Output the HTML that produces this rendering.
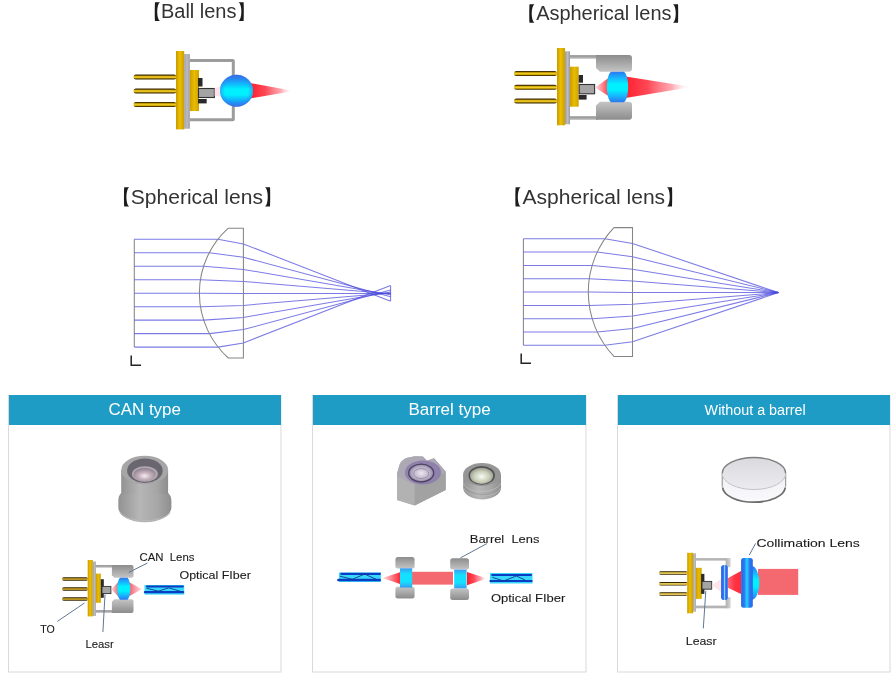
<!DOCTYPE html>
<html><head><meta charset="utf-8"><title>Lens types</title>
<style>html,body{margin:0;padding:0;background:#fff;width:894px;height:675px;overflow:hidden}svg{display:block;filter:blur(0.3px)}</style>
</head><body>
<svg width="894" height="675" viewBox="0 0 894 675">

<defs>
 <linearGradient id="gFl" x1="0" x2="1" y1="0" y2="0">
  <stop offset="0" stop-color="#c89800"/><stop offset="0.45" stop-color="#ecc000"/><stop offset="1" stop-color="#cc9e00"/>
 </linearGradient>
 <linearGradient id="gPin" x1="0" x2="0" y1="0" y2="1">
  <stop offset="0" stop-color="#3a2800"/><stop offset="0.18" stop-color="#5a4200"/><stop offset="0.32" stop-color="#d0a800"/><stop offset="0.55" stop-color="#f2d030"/><stop offset="0.72" stop-color="#d0a800"/><stop offset="0.84" stop-color="#5a4200"/><stop offset="1" stop-color="#3a2800"/>
 </linearGradient>
 <linearGradient id="gPin2" x1="0" x2="0" y1="0" y2="1">
  <stop offset="0" stop-color="#2a2000"/><stop offset="0.2" stop-color="#3a2a00"/><stop offset="0.36" stop-color="#a88418"/><stop offset="0.55" stop-color="#c8a030"/><stop offset="0.74" stop-color="#a88418"/><stop offset="0.86" stop-color="#3a2a00"/><stop offset="1" stop-color="#2a2000"/>
 </linearGradient>
 <linearGradient id="gPin3" x1="0" x2="0" y1="0" y2="1">
  <stop offset="0" stop-color="#2a2000"/><stop offset="0.2" stop-color="#3a2c00"/><stop offset="0.38" stop-color="#d8b840"/><stop offset="0.55" stop-color="#f0dc80"/><stop offset="0.72" stop-color="#d8b840"/><stop offset="0.84" stop-color="#3a2c00"/><stop offset="1" stop-color="#2a2000"/>
 </linearGradient>
 <linearGradient id="gIn" x1="0" x2="1" y1="0" y2="0">
  <stop offset="0" stop-color="#cc9c00"/><stop offset="0.5" stop-color="#e8bc00"/><stop offset="1" stop-color="#d0a200"/>
 </linearGradient>
 <linearGradient id="gPl" x1="0" x2="1" y1="0" y2="0">
  <stop offset="0" stop-color="#9c9ca2"/><stop offset="0.5" stop-color="#bcbcc2"/><stop offset="1" stop-color="#9a9a9e"/>
 </linearGradient>
 <linearGradient id="gHT" x1="0" x2="0" y1="0" y2="1">
  <stop offset="0" stop-color="#8c8c8c"/><stop offset="1" stop-color="#c4c4c4"/>
 </linearGradient>
 <linearGradient id="gHB" x1="0" x2="0" y1="0" y2="1">
  <stop offset="0" stop-color="#c4c4c4"/><stop offset="1" stop-color="#8c8c8c"/>
 </linearGradient>
 <linearGradient id="gBar" x1="0" x2="0" y1="0" y2="1">
  <stop offset="0" stop-color="#8a8a8a"/><stop offset="1" stop-color="#c4c4c4"/>
 </linearGradient>
 <linearGradient id="gStub" x1="0" x2="1" y1="0" y2="0">
  <stop offset="0" stop-color="#b0b0b0"/><stop offset="1" stop-color="#d4d4d4"/>
 </linearGradient>
 <linearGradient id="gLens" x1="0" x2="0" y1="0" y2="1">
  <stop offset="0" stop-color="#2a78f0"/><stop offset="0.2" stop-color="#18b4ff"/><stop offset="0.4" stop-color="#00f0ff"/><stop offset="0.6" stop-color="#00f0ff"/><stop offset="0.8" stop-color="#18b4ff"/><stop offset="1" stop-color="#2a78f0"/>
 </linearGradient>
 <linearGradient id="gLensH" x1="0" x2="1" y1="0" y2="0">
  <stop offset="0" stop-color="#2a62e4"/><stop offset="0.28" stop-color="#2c7cf0"/><stop offset="0.5" stop-color="#1ed8ff"/><stop offset="0.72" stop-color="#2c7cf0"/><stop offset="1" stop-color="#2a62e4"/>
 </linearGradient>
 <linearGradient id="gLensS" x1="0" x2="1" y1="0" y2="0">
  <stop offset="0" stop-color="#2a5ce6"/><stop offset="0.35" stop-color="#2e74f0"/><stop offset="0.52" stop-color="#90d8ff"/><stop offset="0.68" stop-color="#2e74f0"/><stop offset="1" stop-color="#2a5ce6"/>
 </linearGradient>
 <linearGradient id="gLensB" x1="0" x2="0" y1="0" y2="1">
  <stop offset="0" stop-color="#3a9cf0"/><stop offset="0.3" stop-color="#14e0ff"/><stop offset="0.7" stop-color="#14e0ff"/><stop offset="1" stop-color="#3a9cf0"/>
 </linearGradient>
 <linearGradient id="gBallV" x1="0" x2="0" y1="0" y2="1">
  <stop offset="0" stop-color="#3464e0"/><stop offset="0.22" stop-color="#18a4fa"/><stop offset="0.45" stop-color="#00f0ff"/><stop offset="0.62" stop-color="#00f0ff"/><stop offset="0.82" stop-color="#14a8fa"/><stop offset="1" stop-color="#3a66de"/>
 </linearGradient>
 <radialGradient id="gBallEdge" cx="0.5" cy="0.5" r="0.5">
  <stop offset="0.7" stop-color="#3a80f0" stop-opacity="0"/><stop offset="1" stop-color="#3a78ea" stop-opacity="0.55"/>
 </radialGradient>
 <radialGradient id="gBall" cx="0.5" cy="0.5" r="0.5">
  <stop offset="0" stop-color="#00ffff"/><stop offset="0.5" stop-color="#00f0ff"/><stop offset="1" stop-color="#3a74e6"/>
 </radialGradient>
 <linearGradient id="gRedR" x1="0" x2="1" y1="0" y2="0">
  <stop offset="0" stop-color="#ff1e2c"/><stop offset="0.35" stop-color="#ff4856"/><stop offset="0.7" stop-color="#ff8c98" stop-opacity="0.75"/><stop offset="1" stop-color="#ffffff" stop-opacity="0"/>
 </linearGradient>
 <linearGradient id="gRedL" x1="0" x2="1" y1="0" y2="0">
  <stop offset="0" stop-color="#ffe4e8"/><stop offset="1" stop-color="#ff2a36"/>
 </linearGradient>
 <linearGradient id="gRedM" x1="0" x2="1" y1="0" y2="0">
  <stop offset="0" stop-color="#ff6a78"/><stop offset="0.5" stop-color="#ff3444"/><stop offset="1" stop-color="#ff2a3a"/>
 </linearGradient>
 <linearGradient id="gPinkL" x1="0" x2="1" y1="0" y2="0">
  <stop offset="0" stop-color="#ffd8dc"/><stop offset="1" stop-color="#f05a6a"/>
 </linearGradient>
 <linearGradient id="gPinkR" x1="0" x2="1" y1="0" y2="0">
  <stop offset="0" stop-color="#f05a6a"/><stop offset="1" stop-color="#ffe0e4"/>
 </linearGradient>
 <linearGradient id="gCyl" x1="0" x2="1" y1="0" y2="0">
  <stop offset="0" stop-color="#929292"/><stop offset="0.4" stop-color="#b6b6b6"/><stop offset="0.75" stop-color="#a6a6a6"/><stop offset="1" stop-color="#8e8e8e"/>
 </linearGradient>
 <radialGradient id="gCanLens" cx="0.5" cy="0.62" r="0.62">
  <stop offset="0" stop-color="#f4eef2"/><stop offset="0.45" stop-color="#c4b0bc"/><stop offset="1" stop-color="#8a7e88"/>
 </radialGradient>
 <radialGradient id="gRbLens" cx="0.5" cy="0.55" r="0.6">
  <stop offset="0" stop-color="#f8faf4"/><stop offset="0.55" stop-color="#c8ceb8"/><stop offset="1" stop-color="#8a8e80"/>
 </radialGradient>
 <radialGradient id="gSqLens" cx="0.5" cy="0.5" r="0.6">
  <stop offset="0" stop-color="#ece8f0"/><stop offset="0.6" stop-color="#b8aec4"/><stop offset="1" stop-color="#6e6480"/>
 </radialGradient>
 <linearGradient id="gDisc" x1="0" x2="0" y1="0" y2="1">
  <stop offset="0" stop-color="#dadade"/><stop offset="1" stop-color="#ececf0"/>
 </linearGradient>
 <linearGradient id="gDiscSide" x1="0" x2="0" y1="0" y2="1">
  <stop offset="0" stop-color="#f0f0f4"/><stop offset="1" stop-color="#fafafc"/>
 </linearGradient>
</defs>
<path d="M155.00,2.20 L160.00,2.20 C156.30,4.40 156.30,18.80 160.00,21.00 L155.00,21.00 C154.70,17.00 154.70,6.20 155.00,2.20 Z" fill="#1c1c1c"/>
<path d="M243.60,2.20 L238.60,2.20 C242.30,4.40 242.30,18.80 238.60,21.00 L243.60,21.00 C243.90,17.00 243.90,6.20 243.60,2.20 Z" fill="#1c1c1c"/>
<text x="160.94" y="18.2" font-family="Liberation Sans, sans-serif" font-size="20.0" fill="#333" textLength="75.56" lengthAdjust="spacingAndGlyphs">Ball lens</text>
<path d="M529.50,4.20 L534.50,4.20 C530.80,6.40 530.80,20.50 534.50,22.70 L529.50,22.70 C529.20,18.70 529.20,8.20 529.50,4.20 Z" fill="#1c1c1c"/>
<path d="M678.00,4.20 L673.00,4.20 C676.70,6.40 676.70,20.50 673.00,22.70 L678.00,22.70 C678.30,18.70 678.30,8.20 678.00,4.20 Z" fill="#1c1c1c"/>
<text x="536.14" y="19.9" font-family="Liberation Sans, sans-serif" font-size="19.96" fill="#333" textLength="135.34" lengthAdjust="spacingAndGlyphs">Aspherical lens</text>
<path d="M124.20,187.30 L129.20,187.30 C125.50,189.50 125.50,204.40 129.20,206.60 L124.20,206.60 C123.90,202.60 123.90,191.30 124.20,187.30 Z" fill="#1c1c1c"/>
<path d="M270.00,187.30 L265.00,187.30 C268.70,189.50 268.70,204.40 265.00,206.60 L270.00,206.60 C270.30,202.60 270.30,191.30 270.00,187.30 Z" fill="#1c1c1c"/>
<text x="130.75" y="204.1" font-family="Liberation Sans, sans-serif" font-size="21.04" fill="#333" textLength="132.16" lengthAdjust="spacingAndGlyphs">Spherical lens</text>
<path d="M515.60,187.30 L520.60,187.30 C516.90,189.50 516.90,204.40 520.60,206.60 L515.60,206.60 C515.30,202.60 515.30,191.30 515.60,187.30 Z" fill="#1c1c1c"/>
<path d="M672.00,187.30 L667.00,187.30 C670.70,189.50 670.70,204.40 667.00,206.60 L672.00,206.60 C672.30,202.60 672.30,191.30 672.00,187.30 Z" fill="#1c1c1c"/>
<text x="522.54" y="203.8" font-family="Liberation Sans, sans-serif" font-size="21.03" fill="#333" textLength="142.58" lengthAdjust="spacingAndGlyphs">Aspherical lens</text>
<rect x="133.50" y="74.50" width="42.90" height="5.00" fill="url(#gPin)" rx="2.50"/>
<rect x="133.50" y="88.50" width="42.90" height="5.00" fill="url(#gPin)" rx="2.50"/>
<rect x="133.50" y="102.00" width="42.90" height="5.00" fill="url(#gPin)" rx="2.50"/>
<rect x="176.00" y="51.00" width="8.20" height="78.40" fill="url(#gFl)" />
<rect x="184.20" y="54.00" width="5.60" height="74.70" fill="url(#gPl)" />
<rect x="189.80" y="70.00" width="9.20" height="41.00" fill="url(#gIn)" />
<rect x="198.00" y="78.00" width="4.50" height="8.50" fill="#2a2a2a" />
<rect x="198.00" y="99.00" width="8.70" height="4.40" fill="#2a2a2a" />
<rect x="198.50" y="88.50" width="15.90" height="9.00" fill="#a4a4a4" stroke="#333" stroke-width="1.1"/>
<path d="M189.8,60.5 H232.8 Q233.3,60.5 233.3,61 V119.3 Q233.3,119.8 232.8,119.8 H189.8" fill="none" stroke="#9c9c9c" stroke-width="3"/>
<polygon points="250,83 294,91 250,98.5" fill="url(#gRedR)"/>
<polygon points="214.5,88.5 223,85 223,97 214.5,96" fill="#ffdce2" opacity="0.8"/>
<ellipse cx="236.5" cy="90.8" rx="16.5" ry="16" fill="url(#gBallV)"/>
<ellipse cx="236.5" cy="90.8" rx="16.5" ry="16" fill="url(#gBallEdge)"/>
<rect x="514.00" y="71.00" width="43.00" height="5.00" fill="url(#gPin)" rx="2.50"/>
<rect x="514.00" y="84.80" width="43.00" height="5.00" fill="url(#gPin)" rx="2.50"/>
<rect x="514.00" y="98.50" width="43.00" height="5.00" fill="url(#gPin)" rx="2.50"/>
<rect x="557.00" y="48.00" width="8.00" height="77.30" fill="url(#gFl)" />
<rect x="565.00" y="51.30" width="5.00" height="73.00" fill="url(#gPl)" />
<rect x="570.00" y="66.70" width="8.70" height="40.00" fill="url(#gIn)" />
<rect x="578.70" y="75.00" width="4.30" height="7.70" fill="#2a2a2a" />
<rect x="578.70" y="95.00" width="7.90" height="4.60" fill="#2a2a2a" />
<rect x="579.20" y="84.50" width="15.40" height="9.30" fill="#a4a4a4" stroke="#333" stroke-width="1.1"/>
<rect x="570" y="55.2" width="28" height="3.6" fill="url(#gBar)"/>
<rect x="570" y="116.3" width="28" height="3.6" fill="url(#gBar)"/>
<path d="M596,55 H629 Q632,55 632,58 V68.7 Q632,71.7 629,71.7 H600 L596,68 Z" fill="url(#gHT)"/>
<path d="M596,119.8 H629 Q632,119.8 632,116.8 V104.7 Q632,101.7 629,101.7 H600 L596,105.4 Z" fill="url(#gHB)"/>
<polygon points="595,87.5 610,77 610,97" fill="url(#gRedL)"/>
<polygon points="624,76.3 692,87 624,98.3" fill="url(#gRedR)"/>
<path d="M611,71.7 H624 C629.5,76 629.5,98 624,102.2 H611 C605.5,98 605.5,76 611,71.7 Z" fill="url(#gLens)"/>
<line x1="134.3" y1="239.3" x2="134.3" y2="347.1" stroke="#858585" stroke-width="1.05" fill="none"/>
<polyline points="134.3,239.3 217.9,239.3 243.4,243.9 390.6,301.2" stroke="#4a48dc" stroke-opacity="0.72" stroke-width="1.05" fill="none"/>
<polyline points="134.3,252.8 209.3,252.8 243.4,257.2 390.6,296.7" stroke="#4a48dc" stroke-opacity="0.72" stroke-width="1.05" fill="none"/>
<polyline points="134.3,266.2 203.6,266.2 243.4,269.4 390.6,294.7" stroke="#4a48dc" stroke-opacity="0.72" stroke-width="1.05" fill="none"/>
<polyline points="134.3,279.7 200.4,279.7 243.4,281.4 390.6,293.8" stroke="#4a48dc" stroke-opacity="0.72" stroke-width="1.05" fill="none"/>
<polyline points="134.3,293.2 199.4,293.2 243.4,293.4 390.6,293.4" stroke="#4a48dc" stroke-opacity="0.72" stroke-width="1.05" fill="none"/>
<polyline points="134.3,306.7 200.5,306.7 243.4,305.4 390.6,293.0" stroke="#4a48dc" stroke-opacity="0.72" stroke-width="1.05" fill="none"/>
<polyline points="134.3,320.1 203.7,320.1 243.4,317.4 390.6,292.1" stroke="#4a48dc" stroke-opacity="0.72" stroke-width="1.05" fill="none"/>
<polyline points="134.3,333.6 209.4,333.6 243.4,329.6 390.6,290.1" stroke="#4a48dc" stroke-opacity="0.72" stroke-width="1.05" fill="none"/>
<polyline points="134.3,347.1 218.1,347.1 243.4,342.9 390.6,285.6" stroke="#4a48dc" stroke-opacity="0.72" stroke-width="1.05" fill="none"/>
<path d="M228.3,228.2 L243.4,228.2 L243.4,358 L228.3,358 A87.3,87.3 0 0 1 228.3,228.2" stroke="#858585" stroke-width="1.05" fill="none"/>
<line x1="390.6" y1="285.7" x2="390.6" y2="301.1" stroke="#4a48dc" stroke-opacity="0.72" stroke-width="1.05" fill="none"/>
<line x1="523.4" y1="238.7" x2="523.4" y2="345.3" stroke="#858585" stroke-width="1.05" fill="none"/>
<polyline points="523.4,238.7 604.9,238.7 632.5,243.4 778.4,292.6" stroke="#4a48dc" stroke-opacity="0.72" stroke-width="1.05" fill="none"/>
<polyline points="523.4,252.0 597.2,252.0 632.5,256.7 778.4,292.6" stroke="#4a48dc" stroke-opacity="0.72" stroke-width="1.05" fill="none"/>
<polyline points="523.4,265.4 592.2,265.4 632.5,269.2 778.4,292.6" stroke="#4a48dc" stroke-opacity="0.72" stroke-width="1.05" fill="none"/>
<polyline points="523.4,278.7 589.2,278.7 632.5,280.9 778.4,292.6" stroke="#4a48dc" stroke-opacity="0.72" stroke-width="1.05" fill="none"/>
<polyline points="523.4,292.0 588.3,292.0 632.5,292.6 778.4,292.6" stroke="#4a48dc" stroke-opacity="0.72" stroke-width="1.05" fill="none"/>
<polyline points="523.4,305.4 589.3,305.4 632.5,304.3 778.4,292.6" stroke="#4a48dc" stroke-opacity="0.72" stroke-width="1.05" fill="none"/>
<polyline points="523.4,318.7 592.2,318.7 632.5,316.0 778.4,292.6" stroke="#4a48dc" stroke-opacity="0.72" stroke-width="1.05" fill="none"/>
<polyline points="523.4,332.0 597.3,332.0 632.5,328.5 778.4,292.6" stroke="#4a48dc" stroke-opacity="0.72" stroke-width="1.05" fill="none"/>
<polyline points="523.4,345.3 604.9,345.3 632.5,341.8 778.4,292.6" stroke="#4a48dc" stroke-opacity="0.72" stroke-width="1.05" fill="none"/>
<path d="M613.9,227.6 L632.5,227.6 L632.5,356.4 L613.9,356.4 A93.8,93.8 0 0 1 613.9,227.6" stroke="#858585" stroke-width="1.05" fill="none"/>

<path d="M131.2,355.5 V365.2 H141" fill="none" stroke="#222" stroke-width="1.5"/>
<path d="M521.2,353.5 V363.2 H531" fill="none" stroke="#222" stroke-width="1.5"/>
<rect x="8.5" y="395.5" width="272.5" height="276.5" fill="#fff" stroke="#d9d9d9" stroke-width="1"/>
<rect x="9" y="395" width="272" height="30" fill="#1f9cc5"/>
<rect x="312.5" y="395.5" width="273.5" height="276.5" fill="#fff" stroke="#d9d9d9" stroke-width="1"/>
<rect x="313" y="395" width="273" height="30" fill="#1f9cc5"/>
<rect x="617.5" y="395.5" width="272.5" height="276.5" fill="#fff" stroke="#d9d9d9" stroke-width="1"/>
<rect x="618" y="395" width="272" height="30" fill="#1f9cc5"/>
<text x="108.41" y="415" font-family="Liberation Sans, sans-serif" font-size="16.8" fill="#fff" textLength="72.49" lengthAdjust="spacingAndGlyphs">CAN type</text>
<text x="408.41" y="414.9" font-family="Liberation Sans, sans-serif" font-size="16.8" fill="#fff" textLength="82.32" lengthAdjust="spacingAndGlyphs">Barrel type</text>
<text x="704.63" y="414.8" font-family="Liberation Sans, sans-serif" font-size="14" fill="#fff" textLength="101.11" lengthAdjust="spacingAndGlyphs">Without a barrel</text>
<g>
<path d="M118.3,501 V507.5 A26.55,14.8 0 0 0 171.4,507.5 V501 Q171.4,495.5 168.1,493 H121.2 Q118.3,495.5 118.3,501 Z" fill="url(#gCyl)"/>
<path d="M121.2,470 V494 H168.1 V470 Z" fill="url(#gCyl)"/>
<path d="M120,512 A25.5,11 0 0 0 170,512" fill="none" stroke="#bababa" stroke-width="1.2" opacity="0.8"/>
<ellipse cx="144.7" cy="470" rx="23.45" ry="14.3" fill="#a6a6a6"/>
<ellipse cx="144.9" cy="470.7" rx="17.8" ry="12.2" fill="#6a6670"/>
<ellipse cx="144.9" cy="474" rx="13" ry="7.8" fill="#b0a8b0"/>
<ellipse cx="144.6" cy="474.4" rx="11" ry="6.4" fill="url(#gCanLens)"/>
</g>
<rect x="62.00" y="577.25" width="26.00" height="3.50" fill="url(#gPin2)" rx="1.75"/>
<rect x="62.00" y="587.25" width="26.00" height="3.50" fill="url(#gPin2)" rx="1.75"/>
<rect x="62.00" y="597.25" width="26.00" height="3.50" fill="url(#gPin2)" rx="1.75"/>
<rect x="87.70" y="560.00" width="5.10" height="56.40" fill="url(#gFl)" />
<rect x="92.80" y="561.50" width="3.00" height="54.40" fill="url(#gPl)" />
<rect x="95.80" y="573.60" width="5.00" height="29.20" fill="url(#gIn)" />
<rect x="100.80" y="579.20" width="3.00" height="18.60" fill="#2a2a2a" />
<rect x="102.00" y="586.40" width="8.90" height="7.20" fill="#a4a4a4" stroke="#333" stroke-width="0.9"/>
<rect x="95.8" y="565.1" width="17" height="2.6" fill="url(#gBar)"/>
<rect x="95.8" y="610.2" width="17" height="2.7" fill="url(#gBar)"/>
<path d="M111.9,565.1 H131.5 Q133.5,565.1 133.5,567.1 V575.7 Q133.5,577.7 131.5,577.7 H114.4 L111.9,575.2 Z" fill="url(#gHT)"/>
<path d="M111.9,612.9 H131.5 Q133.5,612.9 133.5,610.9 V601.3 Q133.5,599.3 131.5,599.3 H114.4 L111.9,601.8 Z" fill="url(#gHB)"/>
<polygon points="111.4,589.2 119,581.2 119,597.3" fill="url(#gPinkL)"/>
<polygon points="128.5,581.7 141.8,589.2 128.5,596.5" fill="url(#gPinkR)"/>
<path d="M120,577.7 H127.5 C131.2,581 131.2,596.5 127.5,599.8 H120 C116.3,596.5 116.3,581 120,577.7 Z" fill="url(#gLens)"/>
<rect x="144.50" y="585.00" width="39.70" height="9.60" fill="#38d8fc" />
<rect x="146.00" y="585.60" width="37.80" height="1.80" fill="#0a3cc4" rx="1"/>
<rect x="143.80" y="590.90" width="40.40" height="2.30" fill="#0a3cc4" rx="1"/>
<polyline points="146.6,588.2 158.3,591.2 168.8,587.8 181,591.5" fill="none" stroke="#0a3a90" stroke-width="0.9"/>
<text x="139.6" y="560.7" font-family="Liberation Sans, sans-serif" font-size="11.8" fill="#1a1a1a" stroke="#1a1a1a" stroke-width="0.1" style="white-space:pre" textLength="54.8" lengthAdjust="spacingAndGlyphs">CAN  Lens</text>
<text x="179.5" y="578.8" font-family="Liberation Sans, sans-serif" font-size="11.8" fill="#1a1a1a" stroke="#1a1a1a" stroke-width="0.1" style="white-space:pre" textLength="71.3" lengthAdjust="spacingAndGlyphs">Optical FIber</text>
<text x="40.2" y="632.5" font-family="Liberation Sans, sans-serif" font-size="11.8" fill="#1a1a1a" stroke="#1a1a1a" stroke-width="0.1" style="white-space:pre" textLength="14.5" lengthAdjust="spacingAndGlyphs">TO</text>
<text x="85.4" y="647.7" font-family="Liberation Sans, sans-serif" font-size="11.8" fill="#1a1a1a" stroke="#1a1a1a" stroke-width="0.1" style="white-space:pre" textLength="28.4" lengthAdjust="spacingAndGlyphs">Leasr</text>
<line x1="57.3" y1="621.4" x2="84.5" y2="603" stroke="#5f7896" stroke-width="1" fill="none"/>
<line x1="102.9" y1="632" x2="105" y2="594.5" stroke="#5f7896" stroke-width="1" fill="none"/>
<line x1="128.8" y1="572.4" x2="147.5" y2="563" stroke="#5f7896" stroke-width="1" fill="none"/>
<g>
<path d="M397.1,473.3 L399.8,464 Q402,459.5 407.3,457.8 L414.9,456.2 L422.9,456.4 L426.9,460.7 L434,458.2 L445.7,471.5 V490 L414.7,505.6 L397.2,500 Z" fill="#acacac"/>
<polygon points="397.2,476 414.7,485 414.7,505.6 397.2,500" fill="#b2b2b2"/>
<polygon points="414.7,485 445.7,472 445.7,490 414.7,505.6" fill="#a2a2a2"/>
<path d="M397.1,473.3 L399.8,464 Q402,459.5 407.3,457.8 L414.9,456.2 L422.9,456.4 L426.9,460.7 L434,458.2 L445.7,471.5 V472 L414.7,485 L397.2,476 Z" fill="#aca8b4"/>
<ellipse cx="423" cy="472.5" rx="18" ry="12" fill="#9080ac"/>
<ellipse cx="421.2" cy="473.1" rx="12.5" ry="8.9" fill="url(#gSqLens)" stroke="#4c4262" stroke-width="1.3"/>
<ellipse cx="421.2" cy="473.6" rx="7.5" ry="5" fill="none" stroke="#9e92b0" stroke-width="1"/>
</g>
<g>
<path d="M463.2,474.5 V488 A18.9,11.4 0 0 0 501,488 V474.5 Z" fill="url(#gCyl)"/>
<path d="M463.4,483 A18.9,10 0 0 0 500.8,483" fill="none" stroke="#c4c4c4" stroke-width="1" opacity="0.6"/>
<path d="M463.4,486 A18.9,10 0 0 0 500.8,486" fill="none" stroke="#8c8c8c" stroke-width="0.8" opacity="0.5"/>
<path d="M463.6,488 A18.7,9.5 0 0 0 500.6,488" fill="none" stroke="#bcbcbc" stroke-width="1" opacity="0.6"/>
<ellipse cx="482" cy="474.5" rx="18.9" ry="11.4" fill="#969696"/>
<ellipse cx="481.7" cy="475.4" rx="13.2" ry="9.4" fill="#505050"/>
<ellipse cx="481.6" cy="475.8" rx="11.6" ry="8.1" fill="url(#gRbLens)"/>
</g>
<rect x="339.00" y="572.50" width="41.90" height="9.50" fill="#38d8fc" />
<rect x="340.30" y="572.80" width="40.60" height="2.20" fill="#0a3cc4" rx="1"/>
<rect x="337.20" y="578.70" width="43.70" height="2.50" fill="#0a3cc4" rx="1"/>
<polyline points="340,576.2 352.3,579.3 364.6,574.1 376.3,579.3" fill="none" stroke="#0a3a90" stroke-width="0.9"/>
<rect x="412" y="571.8" width="41" height="12.8" fill="#f46870"/>
<polygon points="382.3,578.1 400,572.3 400,583.9" fill="url(#gRedL)"/>
<polygon points="467,572 487,578.6 467,585.3" fill="url(#gRedR)"/>
<rect x="395.4" y="557" width="19.20" height="11.60" rx="2.5" fill="url(#gHT)"/><rect x="395.4" y="586.8" width="19.20" height="11.60" rx="2.5" fill="url(#gHB)"/>
<rect x="400" y="568.3" width="12.2" height="19.3" fill="url(#gLensB)"/>
<rect x="450.2" y="558.2" width="18.80" height="11.40" rx="2.5" fill="url(#gHT)"/><rect x="450.2" y="588.4" width="18.80" height="11.50" rx="2.5" fill="url(#gHB)"/>
<rect x="454.2" y="569.6" width="12.4" height="18.8" fill="url(#gLensB)"/>
<rect x="490.00" y="573.00" width="42.50" height="10.50" fill="#38d8fc" />
<rect x="491.20" y="573.90" width="40.80" height="2.00" fill="#0a3cc4" rx="1"/>
<rect x="489.30" y="580.10" width="43.40" height="2.00" fill="#0a3cc4" rx="1"/>
<polyline points="492.4,577.3 503.5,581 516.4,576 525,580" fill="none" stroke="#0a3a90" stroke-width="0.9"/>
<text x="469.8" y="542.5" font-family="Liberation Sans, sans-serif" font-size="11.8" fill="#1a1a1a" stroke="#1a1a1a" stroke-width="0.1" style="white-space:pre" textLength="69.6" lengthAdjust="spacingAndGlyphs">Barrel  Lens</text>
<text x="490.9" y="601.7" font-family="Liberation Sans, sans-serif" font-size="11.8" fill="#1a1a1a" stroke="#1a1a1a" stroke-width="0.1" style="white-space:pre" textLength="74.4" lengthAdjust="spacingAndGlyphs">Optical FIber</text>
<line x1="460.4" y1="557.9" x2="487" y2="543.5" stroke="#5f7896" stroke-width="1" fill="none"/>
<g>
<path d="M722.2,473.5 V486.8 A31.75,16 0 0 0 785.7,486.8 V473.5 Z" fill="url(#gDiscSide)"/>
<path d="M722.2,473.5 V486.8 M785.7,473.5 V486.8" stroke="#8a8a8a" stroke-width="1"/>
<path d="M722.6,487.5 A31.4,15.6 0 0 0 785.3,487.5" fill="none" stroke="#6e6e6e" stroke-width="1.8"/>
<ellipse cx="754" cy="473.5" rx="31.75" ry="16" fill="url(#gDisc)"/>
<path d="M722.2,473.5 A31.75,16 0 0 1 785.7,473.5" fill="none" stroke="#7e7e7e" stroke-width="1.4"/>
<path d="M722.2,473.5 A31.75,16 0 0 0 785.7,473.5" fill="none" stroke="#c4c4c8" stroke-width="1"/>
</g>
<rect x="658.90" y="571.25" width="28.70" height="3.50" fill="url(#gPin3)" rx="1.75"/>
<rect x="658.90" y="581.95" width="28.70" height="3.50" fill="url(#gPin3)" rx="1.75"/>
<rect x="658.90" y="592.25" width="28.70" height="3.50" fill="url(#gPin3)" rx="1.75"/>
<rect x="687.20" y="552.80" width="5.90" height="60.50" fill="url(#gFl)" />
<rect x="693.10" y="553.30" width="2.70" height="58.40" fill="url(#gPl)" />
<rect x="695.80" y="567.80" width="5.90" height="31.10" fill="url(#gIn)" />
<rect x="701.10" y="573.90" width="3.30" height="20.00" fill="#2a2a2a" />
<rect x="702.00" y="581.40" width="9.70" height="7.80" fill="#a4a4a4" stroke="#333" stroke-width="0.9"/>
<rect x="695.8" y="558.1" width="31" height="2.5" fill="#b4b4b4"/>
<rect x="695.8" y="605.6" width="31" height="2.7" fill="#b4b4b4"/>
<rect x="725.6" y="558.1" width="5" height="9.1" fill="url(#gStub)"/>
<rect x="725.6" y="597.2" width="5" height="11.1" fill="url(#gStub)"/>
<polygon points="711.7,585.3 721,579 721,592" fill="#ffe4e8"/>
<polygon points="727.8,578.3 741,571.1 741,593.9 727.8,587.8" fill="url(#gRedM)"/>
<rect x="721.1" y="565" width="6.7" height="35" rx="2.8" fill="url(#gLensS)"/>
<rect x="758" y="568.9" width="40.2" height="26" fill="#f46870"/>
<path d="M752,566.1 A8,17 0 0 1 752,600 Z" fill="url(#gLens)"/>
<rect x="741.1" y="558.1" width="11.7" height="49.7" rx="2.5" fill="url(#gLensH)"/>
<text x="756.4" y="546.9" font-family="Liberation Sans, sans-serif" font-size="11.8" fill="#1a1a1a" stroke="#1a1a1a" stroke-width="0.1" style="white-space:pre" textLength="103.4" lengthAdjust="spacingAndGlyphs">Collimation Lens</text>
<text x="685.8" y="645.4" font-family="Liberation Sans, sans-serif" font-size="11.8" fill="#1a1a1a" stroke="#1a1a1a" stroke-width="0.1" style="white-space:pre" textLength="30.8" lengthAdjust="spacingAndGlyphs">Leasr</text>
<line x1="703.3" y1="628.4" x2="705.8" y2="590.9" stroke="#5f7896" stroke-width="1" fill="none"/>
<line x1="749.3" y1="555" x2="755.6" y2="543.4" stroke="#5f7896" stroke-width="1" fill="none"/>
</svg>
</body></html>
